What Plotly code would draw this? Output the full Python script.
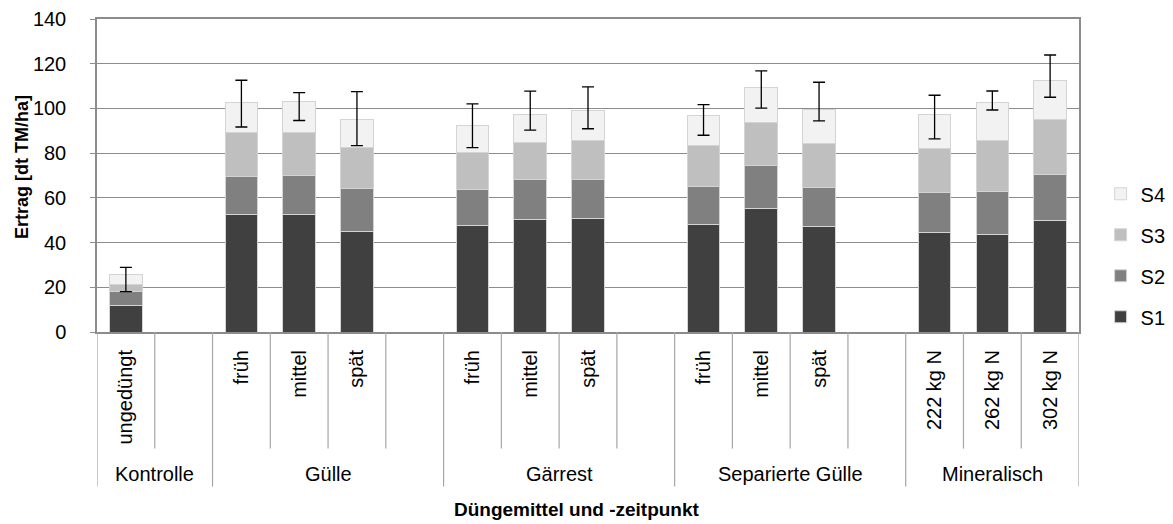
import plotly.graph_objects as go

# Slot layout along the category axis (empty strings are spacer slots)
groups = ["Kontrolle", "Gülle", "Gärrest", "Separierte Gülle", "Mineralisch"]
group_slots = [2, 4, 4, 4, 3]
sub_labels = ["ungedüngt", "",
              "früh", "mittel", "spät", "",
              "früh", "mittel", "spät", "",
              "früh", "mittel", "spät", "",
              "222 kg N", "262 kg N", "302 kg N"]

# Yield per cut [dt TM/ha]
s1 = [11.9, None, 52.4, 52.4, 45.1, None, 47.5, 50.3, 50.8, None,
      48.1, 55.3, 47.2, None, 44.7, 43.6, 50.0]
s2 = [6.2, None, 17.0, 17.5, 19.1, None, 16.1, 17.8, 17.3, None,
      16.8, 19.0, 17.3, None, 17.7, 19.1, 20.6]
s3 = [3.3, None, 19.7, 19.2, 18.2, None, 16.8, 16.8, 17.4, None,
      18.7, 19.4, 19.7, None, 19.7, 23.1, 24.6]
s4 = [4.5, None, 13.7, 14.1, 12.5, None, 11.9, 12.5, 13.7, None,
      13.2, 15.8, 15.4, None, 15.2, 16.7, 17.4]

# Error bar extent above / below the total yield
err_plus = [3.0, None, 9.8, 3.9, 12.6, None, 9.7, 10.3, 10.4, None,
            4.9, 7.3, 12.1, None, 8.6, 5.3, 11.3]
err_minus = [7.8, None, 11.1, 8.6, 11.5, None, 9.8, 7.1, 8.3, None,
             8.8, 9.4, 5.2, None, 10.9, 3.2, 7.6]

series = [("S1", s1, "#404040"), ("S2", s2, "#808080"),
          ("S3", s3, "#bfbfbf"), ("S4", s4, "#f2f2f2")]

FONT = "Arial, 'Liberation Sans', sans-serif"
GRID = "#8c8c8c"
FS = 20

x = list(range(len(sub_labels)))
fig = go.Figure()
for i, (name, vals, color) in enumerate(series):
    fig.add_trace(go.Bar(
        x=x, y=vals, name=name, legendgroup=name, legendrank=len(series) - i,
        marker=dict(color=color, line=dict(color="#d4d4d4", width=1)),
    ))

totals = [None if a is None else a + b + c + d for a, b, c, d in zip(s1, s2, s3, s4)]
fig.add_trace(go.Scatter(
    x=x, y=totals, mode="markers", showlegend=False, hoverinfo="skip",
    marker=dict(size=1, color="rgba(0,0,0,0)"),
    error_y=dict(type="data", symmetric=False, array=err_plus, arrayminus=err_minus,
                 color="black", thickness=1.3, width=6),
))

# Plot-area geometry in pixels
W, H = 1173, 524
L, R, T, B = 97.3, 1078.7, 19.0, 332.3
ph = B - T


def py(px):
    return (B - px) / ph


shapes = []
# Category separators: short ones between slots, long ones between groups
bounds = [0]
for n in group_slots:
    bounds.append(bounds[-1] + n)
for k in range(len(sub_labels) + 1):
    long_line = k in bounds
    shapes.append(dict(type="line", xref="x", yref="paper",
                       x0=k - 0.5, x1=k - 0.5, y0=0,
                       y1=py(487 if long_line else 449),
                       line=dict(color="#a6a6a6", width=1.2)))

annotations = []
for gi, g in enumerate(groups):
    cx = (bounds[gi] + bounds[gi + 1]) / 2 - 0.5
    annotations.append(dict(text=g, x=cx, xref="x", y=py(474), yref="paper",
                            showarrow=False, yanchor="middle",
                            font=dict(family=FONT, size=FS, color="black")))
annotations.append(dict(text="<b>Düngemittel und -zeitpunkt</b>",
                        x=(577 - L) / (R - L), xref="paper", y=py(510), yref="paper",
                        showarrow=False, yanchor="middle",
                        font=dict(family=FONT, size=19, color="black")))
annotations.append(dict(text="<b>Ertrag [dt TM/ha]</b>", textangle=-90,
                        x=(23 - L) / (R - L), xref="paper", y=py(167.5), yref="paper",
                        showarrow=False, xanchor="center", yanchor="middle",
                        font=dict(family=FONT, size=18, color="black")))

fig.update_layout(
    width=W, height=H,
    margin=dict(l=L, r=W - R, t=T, b=H - B, pad=0, autoexpand=False),
    paper_bgcolor="white", plot_bgcolor="white",
    barmode="stack", bargap=0.435,
    font=dict(family=FONT, size=FS, color="black"),
    shapes=shapes, annotations=annotations,
    legend=dict(traceorder="grouped", tracegroupgap=12,
                x=1.022, xanchor="left", y=py(255.5), yanchor="middle",
                font=dict(family=FONT, size=FS, color="black"),
                bgcolor="rgba(0,0,0,0)"),
    showlegend=True,
)
fig.update_xaxes(
    range=[-0.5, len(sub_labels) - 0.5],
    tickmode="array", tickvals=x, ticktext=sub_labels, tickangle=-90,
    ticks="outside", ticklen=8, tickcolor="rgba(0,0,0,0)",
    showgrid=False, zeroline=False,
    showline=True, linecolor=GRID, linewidth=2, mirror=True,
    tickfont=dict(family=FONT, size=FS, color="black"),
)
fig.update_yaxes(
    range=[0, 140], dtick=20, tick0=0,
    showgrid=True, gridcolor=GRID, gridwidth=1,
    zeroline=False,
    showline=True, linecolor=GRID, linewidth=1.5, mirror=True,
    ticks="outside", ticklen=5, tickcolor=GRID,
    ticklabelstandoff=20,
    tickfont=dict(family=FONT, size=FS, color="black"),
)

fig.write_html("out.html")
